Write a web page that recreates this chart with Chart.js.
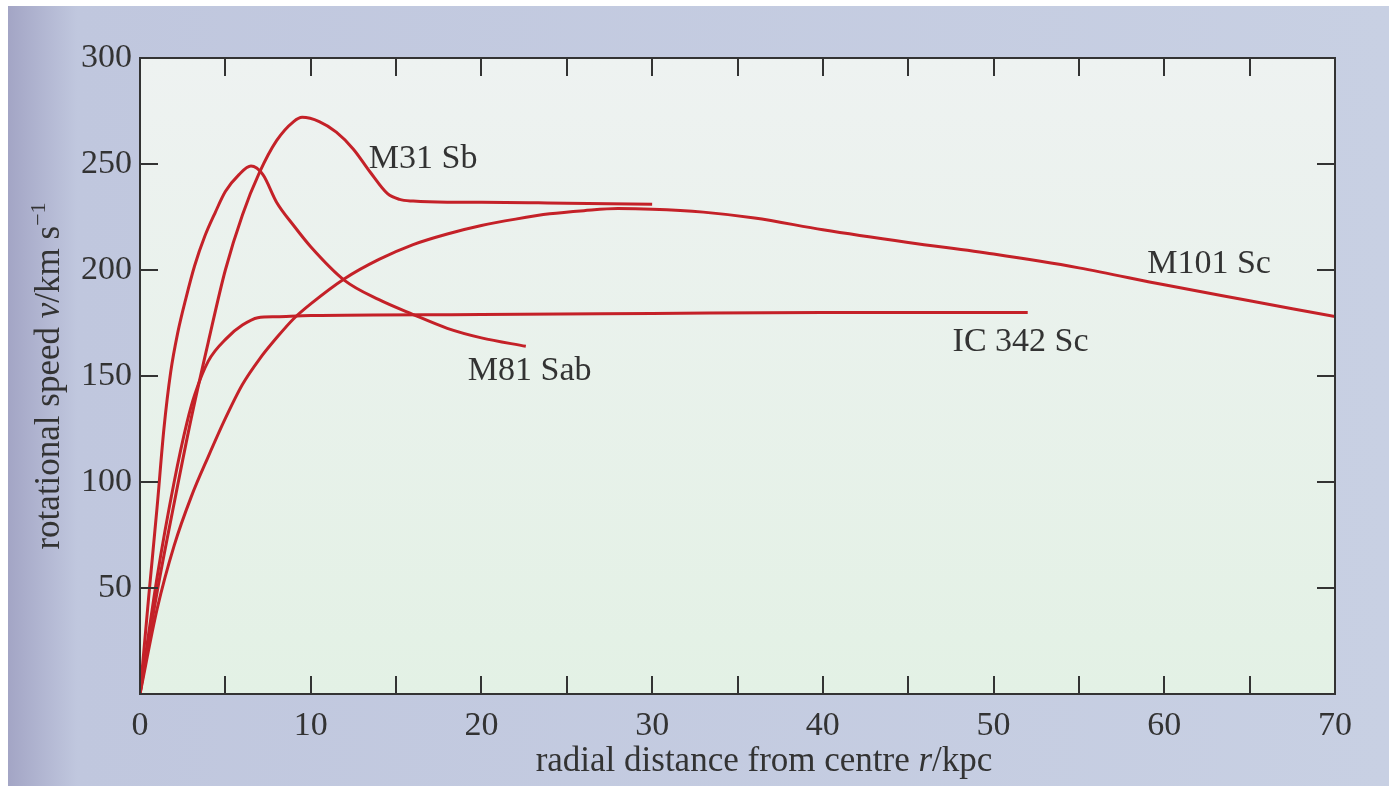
<!DOCTYPE html>
<html>
<head>
<meta charset="utf-8">
<script src="https://cdn.jsdelivr.net/npm/chart.js@4.4.1/dist/chart.umd.min.js"></script>
<style>
html, body { margin: 0; padding: 0; background: #fff; }
canvas { display: block; }
</style>
</head>
<body>
<canvas id="curvas" width="1389" height="795"></canvas>
<script>
// radial distance r (kpc) and rotational speed v (km/s)
const m81R = [0, 0.5, 1, 1.4, 1.8, 2.2, 2.7, 3.2, 3.8, 4.4, 5, 5.8, 6.5, 7.2, 8, 9, 10, 12, 14, 16, 18, 20, 22.6];
const m81V = [0, 45, 88, 125, 152, 170, 187, 202, 216, 227, 237, 245, 249, 245, 232, 221, 211, 195, 186, 179, 172.5, 168, 164];

const m31R = [0, 1, 2, 3, 4, 5, 6, 7, 8, 9, 9.5, 10.5, 11.5, 12.5, 13.5, 14.5, 15.2, 16, 18, 20, 25, 30];
const m31V = [0, 48, 90, 130, 166, 200, 226, 246, 261, 270, 272, 270, 265, 257, 246, 236, 233.3, 232.5, 232, 232, 231.5, 231];

const ic342R = [0, 1, 2, 2.75, 3.2, 4, 5.1, 6, 6.9, 8, 10, 20, 30, 40, 52];
const ic342V = [0, 55, 100, 128, 141, 157, 168, 174, 177.5, 178, 178.5, 179, 179.5, 180, 180];

const m101R = [0, 1, 2, 3, 4, 5, 6, 7, 8, 9, 10, 12, 14, 16, 18, 20, 22, 24, 26, 28, 30, 33, 36, 40, 45, 50, 55, 60, 65, 70];
const m101V = [0, 40, 70, 93, 112, 130, 146, 158, 168, 177, 184, 196, 205, 212, 217, 221, 224, 226.5, 228, 229, 228.7, 227.3, 224.5, 219, 213, 207.5, 201, 193, 185.5, 178];

const xTickLabels = ['0', '10', '20', '30', '40', '50', '60', '70'];
const yTickLabels = ['50', '100', '150', '200', '250', '300'];

// galaxy names and where they sit (in r, v units)
const galaxyNames = ['M31 Sb', 'M81 Sab', 'IC 342 Sc', 'M101 Sc'];
const nameR = [13.4, 19.2, 47.6, 59.0];
const nameV = [248, 148, 161.6, 198.6];

const red = '#c42128';
const ink = '#333333';
const serif = '"Liberation Serif", "Times New Roman", serif';

function pares(rs, vs) {
    return rs.map((r, i) => ({ x: r, y: vs[i] }));
}

function curva(nome, rs, vs) {
    return {
        label: nome,
        data: pares(rs, vs),
        borderColor: red,
        borderWidth: 3,
        pointRadius: 0,
        fill: false,
        cubicInterpolationMode: 'monotone'
    };
}

function textoMisto(c, partes, x, y) {
    let total = 0;
    partes.forEach(p => { c.font = p.font; total += c.measureText(p.t).width; });
    let px = x - total / 2;
    partes.forEach(p => {
        c.font = p.font;
        c.fillText(p.t, px, y + (p.dy || 0));
        px += c.measureText(p.t).width;
    });
}

const fundo = {
    id: 'fundo',
    beforeDraw(chart) {
        const c = chart.ctx, a = chart.chartArea;
        c.save();
        c.fillStyle = '#ffffff';
        c.fillRect(0, 0, chart.width, chart.height);
        let g = c.createLinearGradient(8, 0, chart.width, 0);
        g.addColorStop(0, '#a3a5c5');
        g.addColorStop(0.05, '#c0c7de');
        g.addColorStop(1, '#c8d0e3');
        c.fillStyle = g;
        c.fillRect(8, 6, chart.width - 8, 780);
        g = c.createLinearGradient(0, a.top, 0, a.bottom);
        g.addColorStop(0, '#eef2f1');
        g.addColorStop(1, '#e3f1e5');
        c.fillStyle = g;
        c.fillRect(a.left, a.top, a.right - a.left, a.bottom - a.top);
        c.restore();
    }
};

const moldura = {
    id: 'moldura',
    afterDraw(chart) {
        const c = chart.ctx, a = chart.chartArea;
        const sx = chart.scales.x, sy = chart.scales.y;
        c.save();
        c.strokeStyle = ink;
        c.lineWidth = 2;
        c.strokeRect(a.left, a.top, a.right - a.left, a.bottom - a.top);
        c.beginPath();
        sx.ticks.forEach(t => {
            if (t.value <= 0 || t.value >= 70) return;
            const px = Math.round(sx.getPixelForValue(t.value));
            c.moveTo(px, a.bottom); c.lineTo(px, a.bottom - 18);
            c.moveTo(px, a.top); c.lineTo(px, a.top + 18);
        });
        sy.ticks.forEach(t => {
            if (t.value <= 0 || t.value >= 300) return;
            const py = Math.round(sy.getPixelForValue(t.value));
            c.moveTo(a.left, py); c.lineTo(a.left + 18, py);
            c.moveTo(a.right, py); c.lineTo(a.right - 18, py);
        });
        c.stroke();

        // galaxy names
        c.fillStyle = ink;
        c.font = '34px ' + serif;
        c.textBaseline = 'alphabetic';
        galaxyNames.forEach((n, i) => {
            c.fillText(n, sx.getPixelForValue(nameR[i]), sy.getPixelForValue(nameV[i]));
        });

        // axis titles
        const norm = '35px ' + serif, ital = 'italic 35px ' + serif, sup = '22px ' + serif;
        c.textBaseline = 'middle';
        textoMisto(c, [
            { t: 'radial distance from centre ', font: norm },
            { t: 'r', font: ital },
            { t: '/kpc', font: norm }
        ], 764, 762);

        c.translate(50, (a.top + a.bottom) / 2);
        c.rotate(-Math.PI / 2);
        textoMisto(c, [
            { t: 'rotational speed ', font: norm },
            { t: 'v', font: ital },
            { t: '/km s', font: norm },
            { t: '\u22121', font: sup, dy: -11 }
        ], 0, 0);
        c.restore();
    }
};

const ctx = document.getElementById('curvas');

const grafico = new Chart(ctx, {
    type: 'line',
    data: {
        datasets: [
            curva('M81 Sab', m81R, m81V),
            curva('M31 Sb', m31R, m31V),
            curva('IC 342 Sc', ic342R, ic342V),
            curva('M101 Sc', m101R, m101V)
        ]
    },
    options: {
        responsive: false,
        animation: false,
        devicePixelRatio: 1,
        layout: { padding: { top: 58, right: 54, left: 0, bottom: 0 } },
        plugins: {
            legend: { display: false },
            tooltip: { enabled: false },
            title: { display: false }
        },
        scales: {
            x: {
                type: 'linear',
                min: 0,
                max: 70,
                afterFit: s => { s.height = 101; },
                grid: { display: false, drawTicks: false },
                border: { display: false },
                ticks: {
                    stepSize: 5,
                    autoSkip: false,
                    maxRotation: 0,
                    padding: 12,
                    color: ink,
                    font: { family: serif, size: 34 },
                    callback: v => xTickLabels.includes(String(v)) ? String(v) : ''
                }
            },
            y: {
                type: 'linear',
                min: 0,
                max: 300,
                afterFit: s => { s.width = 140; },
                grid: { display: false, drawTicks: false },
                border: { display: false },
                ticks: {
                    stepSize: 50,
                    padding: 8,
                    color: ink,
                    font: { family: serif, size: 34 },
                    callback: v => yTickLabels.includes(String(v)) ? String(v) : ''
                }
            }
        }
    },
    plugins: [fundo, moldura]
});
</script>
</body>
</html>
